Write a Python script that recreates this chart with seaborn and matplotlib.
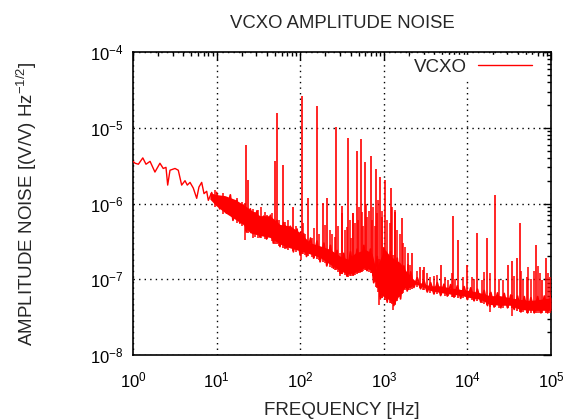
import numpy as np
import pandas as pd
import matplotlib
matplotlib.use("Agg")
import matplotlib.pyplot as plt
import seaborn as sns
from matplotlib.ticker import LogLocator, LogFormatterSciNotation, NullFormatter

# ---------------- data ----------------
# low-frequency part of the spectrum (single trace)
low_freq = [1.0, 1.06, 1.16, 1.31, 1.43, 1.60, 1.83, 2.10, 2.30, 2.48, 2.60, 2.77,
            3.18, 3.48, 3.82, 4.19, 4.46, 4.81, 5.26, 5.78, 6.15, 6.63, 7.07,
            7.61, 7.96, 8.73, 9.57]
low_amp = [3.6e-6, 3.4e-6, 3.3e-6, 4.0e-6, 3.3e-6, 3.6e-6, 2.6e-6, 3.4e-6, 2.9e-6,
           3.0e-6, 1.75e-6, 2.75e-6, 2.9e-6, 2.75e-6, 1.75e-6, 2.0e-6, 1.75e-6,
           1.9e-6, 1.6e-6, 1.17e-6, 1.65e-6, 1.9e-6, 1.35e-6, 1.45e-6, 1.1e-6,
           1.4e-6, 1.05e-6]

# noisy trace above 10 Hz (alternating high / low excursions)
trace_freq = [10.0, 10.9, 12.1, 13.1, 14.6, 15.7, 17.5, 19.0, 21.0, 22.7, 25.3, 27.4,
              30.4, 33.0, 36.5, 39.6, 44.0, 47.7, 52.8, 57.3, 63.4, 69.0, 76.3, 82.9,
              91.6, 99.7, 110, 119, 133, 145, 159, 173, 192, 208, 230, 250, 276, 300,
              332, 362, 399, 436, 480, 524, 577, 630, 693, 758, 834, 910, 1002, 1098,
              1205, 1318, 1447, 1585, 1738, 1905, 2094, 2290, 2512, 2754, 3020, 3311,
              3631, 3981, 4365, 4786, 5248, 5754, 6310, 6918, 7586, 8318, 9120, 10000,
              10960, 12020, 13180, 14450, 15850, 17380, 19050, 20890, 22910, 25120,
              27540, 30200, 33110, 36310, 39810, 43650, 47860, 52480, 57540, 63100,
              69180, 75860, 83180, 91200, 100000]
trace_amp = [1.4e-6, 8.5e-7, 1.2e-6, 7.5e-7, 1.3e-6, 6.0e-7, 1.1e-6, 5.5e-7, 9.5e-7,
             4.2e-7, 8.5e-7, 4.0e-7, 8.0e-7, 3.6e-7, 6.8e-7, 3.4e-7, 7.0e-7, 3.0e-7,
             6.0e-7, 2.7e-7, 5.6e-7, 2.6e-7, 5.0e-7, 2.3e-7, 4.6e-7, 2.1e-7, 4.0e-7,
             2.0e-7, 3.5e-7, 1.9e-7, 3.2e-7, 1.7e-7, 3.0e-7, 1.5e-7, 2.8e-7, 1.4e-7,
             2.4e-7, 1.2e-7, 2.2e-7, 1.1e-7, 2.3e-7, 1.15e-7, 2.5e-7, 1.25e-7, 2.8e-7,
             1.3e-7, 2.5e-7, 9.0e-8, 2.0e-7, 5.5e-8, 2.6e-7, 5.0e-8, 2.3e-7, 4.5e-8,
             1.9e-7, 5.5e-8, 1.5e-7, 7.0e-8, 1.25e-7, 7.8e-8, 1.05e-7, 7.5e-8, 9.6e-8,
             6.8e-8, 9.0e-8, 6.4e-8, 9.0e-8, 6.1e-8, 8.6e-8, 6.0e-8, 8.5e-8, 5.8e-8,
             8.2e-8, 5.6e-8, 8.0e-8, 5.4e-8, 7.7e-8, 5.2e-8, 7.4e-8, 5.0e-8, 7.1e-8,
             4.5e-8, 6.7e-8, 4.3e-8, 6.6e-8, 4.2e-8, 6.5e-8, 4.2e-8, 6.2e-8, 4.0e-8,
             6.0e-8, 3.7e-8, 5.9e-8, 3.6e-8, 5.7e-8, 3.6e-8, 5.9e-8, 3.6e-8, 6.0e-8,
             3.6e-8, 6.2e-8]

# envelope of the dense noise band
band_freq = [8.3, 9.8, 12.6, 16.6, 20.7, 25.1, 33.0, 43.5, 57.3, 75.5, 99.4, 131,
             172, 227, 299, 373, 452, 596, 723, 807, 900, 1033, 1186, 1361, 1562,
             1793, 2058, 2362, 2710, 3568, 4701, 6195, 8156, 10740, 14150, 18640,
             24550, 32330, 42580, 56090, 73870, 100000]
band_upper = [1.51e-6, 1.43e-6, 1.38e-6, 1.23e-6, 1.06e-6, 9.1e-7, 7.5e-7, 7.5e-7,
              5.75e-7, 5.5e-7, 4.5e-7, 3.3e-7, 3.0e-7, 2.7e-7, 2.2e-7, 2.0e-7,
              2.4e-7, 2.7e-7, 2.4e-7, 1.46e-7, 2.0e-7, 2.7e-7, 2.2e-7, 2.0e-7,
              1.8e-7, 1.46e-7, 1.2e-7, 1.04e-7, 9.8e-8, 8.9e-8, 8.9e-8, 8.4e-8,
              8.0e-8, 7.7e-8, 7.2e-8, 6.6e-8, 6.6e-8, 6.2e-8, 5.9e-8, 5.7e-8,
              5.9e-8, 6.2e-8]
band_lower = [1.06e-6, 8.7e-7, 7.0e-7, 5.75e-7, 4.9e-7, 3.8e-7, 3.5e-7, 3.3e-7,
              2.7e-7, 2.4e-7, 2.2e-7, 2.0e-7, 1.8e-7, 1.46e-7, 1.2e-7, 1.08e-7,
              1.14e-7, 1.32e-7, 1.2e-7, 8.0e-8, 5.9e-8, 5.3e-8, 4.9e-8, 4.6e-8,
              5.9e-8, 7.2e-8, 7.2e-8, 8.0e-8, 7.7e-8, 6.6e-8, 6.2e-8, 5.9e-8,
              5.7e-8, 5.3e-8, 5.05e-8, 4.3e-8, 4.2e-8, 4.2e-8, 3.7e-8, 3.6e-8,
              3.6e-8, 3.6e-8]

# discrete spurs (frequency, peak amplitude)
spur_freq = [22.5, 23.7, 50.5, 52.4, 62.8, 80.9, 104.2, 125, 157.6, 189, 211, 265.8,
             318.8, 370, 424.6, 474, 530.8, 592.6, 697, 806.6, 912.9, 1033, 1209,
             1380, 1651, 1964, 2175, 2710, 3051, 4833, 6671, 7720, 9890, 12920,
             17020, 21100, 30600, 33880, 38880, 42580, 51220, 65260, 77420, 87140]
spur_amp = [5.92e-6, 2.04e-6, 3.6e-6, 1.55e-5, 3.22e-6, 9.1e-7, 2.65e-5, 1.18e-6,
            1.94e-5, 1.01e-6, 1.18e-6, 1.01e-5, 9.3e-7, 7.3e-6, 7.5e-7, 4.9e-6,
            7.1e-6, 3.56e-6, 4.24e-6, 2.83e-6, 2.27e-6, 2.04e-6, 1.6e-6, 7.8e-7,
            6.4e-7, 2.2e-7, 2.2e-7, 1.45e-7, 1.45e-7, 1.52e-7, 6.8e-7, 3.3e-7,
            1.54e-7, 4.1e-7, 3.5e-7, 1.29e-6, 1.54e-7, 1.74e-7, 1.93e-7, 5.5e-7,
            1.07e-7, 2.87e-7, 9.8e-8, 1.91e-7]

# small spurs on top of the noise band
minor_freq = [9.6, 12.0, 17.4, 20.0, 28.8, 31.5, 34, 37.9, 40, 45.6, 56, 65.8, 72,
              88, 108.9, 115, 137, 145, 170, 198, 227, 240, 261, 285, 313, 345, 360,
              395, 410, 432, 455, 495, 510, 544, 560, 610, 624, 660, 717, 740, 780,
              823, 860, 944, 960, 1100, 1186, 1250, 1361, 1450, 1562, 1700, 1793,
              1964, 2058, 2500, 2968, 3300, 3568, 4000, 4294, 5396, 5908, 6500, 7100,
              8785, 11260, 12000, 14830, 16000, 18640, 24000, 26880, 36000, 44000,
              46640, 53510, 58000, 62000, 70000, 73870, 92000, 97270]
minor_amp = [1.51e-6, 1.36e-6, 1.17e-6, 1.06e-6, 7.8e-7, 8.2e-7, 9.0e-7, 7.8e-7,
             7.0e-7, 7.4e-7, 6.0e-7, 5.2e-7, 6.0e-7, 5.0e-7, 5.5e-7, 4.0e-7, 3.5e-7,
             4.8e-7, 4.0e-7, 5.2e-7, 4.5e-7, 4.0e-7, 3.6e-7, 5.0e-7, 7.4e-7, 4.5e-7,
             4.9e-7, 6.0e-7, 3.5e-7, 7.4e-7, 5.5e-7, 6.1e-7, 9.0e-7, 7.8e-7, 5.0e-7,
             1.0e-6, 6.7e-7, 8.0e-7, 6.1e-7, 9.0e-7, 5.0e-7, 7.4e-7, 1.1e-6, 6.7e-7,
             8.0e-7, 6.0e-7, 5.5e-7, 9.0e-7, 8.2e-7, 4.5e-7, 4.0e-7, 3.0e-7, 2.7e-7,
             1.6e-7, 1.54e-7, 1.3e-7, 1.32e-7, 1.2e-7, 1.08e-7, 1.1e-7, 1.14e-7,
             1.08e-7, 9.8e-8, 1.2e-7, 1.0e-7, 1.08e-7, 1.08e-7, 1.0e-7, 9.8e-8,
             1.25e-7, 1.2e-7, 1.0e-7, 9.8e-8, 1.1e-7, 1.3e-7, 9.8e-8, 1.46e-7,
             1.0e-7, 1.3e-7, 1.5e-7, 1.2e-7, 1.2e-7, 1.08e-7]

# downward dips of the noise band
dip_freq = [21.9, 27.5, 65.8, 102, 299, 876, 1288, 18640, 34160]
dip_amp = [3.3e-7, 3.5e-7, 2.56e-7, 1.8e-7, 1.1e-7, 4.6e-8, 3.9e-8, 3.7e-8, 3.3e-8]

series_label = "VCXO"
title = "VCXO AMPLITUDE NOISE"
xlabel = "FREQUENCY [Hz]"
ylabel = "AMPLITUDE NOISE [(V/V) Hz$^{-1/2}$]"

# ---------------- style ----------------
sns.set_theme(style="white")
plt.rcParams["font.family"] = ["Liberation Sans", "DejaVu Sans"]
plt.rcParams["mathtext.fontset"] = "custom"
plt.rcParams["mathtext.rm"] = "Liberation Sans"
plt.rcParams["mathtext.it"] = "Liberation Sans:italic"
plt.rcParams["mathtext.bf"] = "Liberation Sans:bold"

RED = "#ff0000"
fig = plt.figure(figsize=(5.70, 4.19), dpi=100)
ax = fig.add_axes([133 / 570, 1 - 355 / 419, 418 / 570, 303 / 419])

# band core
bf = np.array(band_freq, float)
bu = np.array(band_upper, float)
bl = np.array(band_lower, float)
ax.fill_between(bf, bl * 1.08, bu * 0.92, color=RED, lw=0, zorder=3)

def on_band(f, arr):
    return 10 ** np.interp(np.log10(f), np.log10(bf), np.log10(arr))

# noisy trace
trace_df = pd.DataFrame({"f": trace_freq, "a": trace_amp})
sns.lineplot(data=trace_df, x="f", y="a", color=RED, lw=1.3, ax=ax,
             sort=False, zorder=3)

# spurs
sf = np.array(spur_freq, float)
ax.vlines(sf, on_band(sf, bl), spur_amp, color=RED, lw=1.2, zorder=3)
mf = np.array(minor_freq, float)
ax.vlines(mf, on_band(mf, bl), minor_amp, color=RED, lw=1.1, zorder=3)
df_ = np.array(dip_freq, float)
ax.vlines(df_, dip_amp, on_band(df_, bu), color=RED, lw=1.1, zorder=3)

# low-frequency trace (seaborn) -- carries the legend entry
low_df = pd.DataFrame({"f": low_freq, "a": low_amp})
sns.lineplot(data=low_df, x="f", y="a", color=RED, lw=1.0, ax=ax,
             label=series_label, zorder=3)

ax.set_xscale("log")
ax.set_yscale("log")
ax.set_xlim(1, 1e5)
ax.set_ylim(1e-8, 1e-4)

ax.xaxis.set_major_locator(LogLocator(base=10, numticks=10))
ax.xaxis.set_minor_locator(LogLocator(base=10, subs=np.arange(2, 10), numticks=20))
ax.yaxis.set_major_locator(LogLocator(base=10, numticks=10))
ax.yaxis.set_minor_locator(LogLocator(base=10, subs=np.arange(2, 10), numticks=20))
ax.xaxis.set_major_formatter(LogFormatterSciNotation())
ax.yaxis.set_major_formatter(LogFormatterSciNotation())
ax.xaxis.set_minor_formatter(NullFormatter())
ax.yaxis.set_minor_formatter(NullFormatter())

ax.tick_params(which="both", direction="in", top=True, right=True,
               colors="black", labelsize=12, width=1)
ax.tick_params(which="major", length=6)
ax.tick_params(which="minor", length=3)
ax.tick_params(axis="x", which="major", pad=11)
ax.tick_params(axis="y", which="major", pad=7)

ax.grid(True, which="major", color="black", linestyle=(0, (1, 3)), lw=1)
for s in ax.spines.values():
    s.set_color("black")
    s.set_linewidth(1.2)

fig.text(342 / 570, 1 - 24 / 419, title, fontsize=13.3, ha="center", va="center")
ax.set_xlabel(xlabel, fontsize=13.5, labelpad=5)
ax.set_ylabel(ylabel, fontsize=13.5)
ax.yaxis.set_label_coords((27 - 133) / 418, 0.5)
ax.xaxis.set_label_coords(0.5, (355 - 410) / 303)
ax.xaxis.label.set_va("center")
ax.yaxis.label.set_va("center")

leg = ax.legend(loc="upper right", markerfirst=False, frameon=True,
                fancybox=False, fontsize=13.5, handlelength=2.9,
                borderaxespad=0.0, borderpad=0.2, handletextpad=0.6,
                bbox_to_anchor=(0.964, 0.99))
leg.get_frame().set_edgecolor("white")
leg.get_frame().set_facecolor("white")
leg.get_frame().set_alpha(1)
leg.set_zorder(5)

fig.savefig("out.png", dpi=100)
